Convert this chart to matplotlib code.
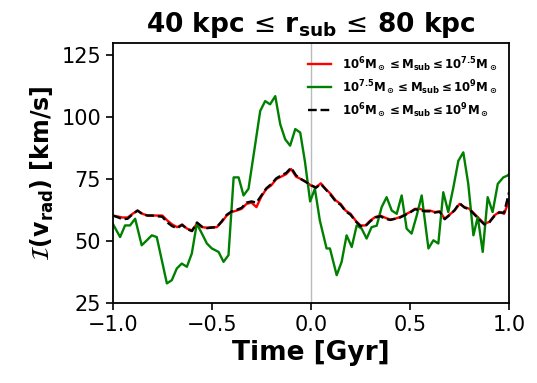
import numpy as np
import matplotlib
matplotlib.use("Agg")
import matplotlib.pyplot as plt

# time grid for the two smooth curves (Gyr)
t_grid = np.linspace(-1.0, 1.0, 81)

# 10^6 <= M <= 10^7.5
v_low = [60.3, 59.9, 59.5, 59.5, 61.0, 62.3, 61.0, 60.3, 60.3, 60.3,
         60.3, 58.3, 56.7, 55.6, 56.7, 55.0, 54.3, 57.0, 55.6, 55.4,
         55.6, 55.6, 57.7, 60.3, 61.7, 62.3, 63.0, 65.0, 65.5, 63.7,
         68.0, 71.0, 72.5, 75.0, 76.0, 77.0, 79.1, 76.0, 75.0, 74.0,
         72.4, 71.7, 73.3, 71.0, 69.0, 66.4, 65.0, 62.3, 61.0, 58.3,
         56.3, 56.3, 58.3, 59.7, 60.3, 59.4, 58.7, 59.0, 59.7, 60.7,
         61.7, 63.0, 63.0, 62.3, 62.3, 61.7, 62.0, 59.0, 60.7, 62.3,
         65.0, 63.7, 63.0, 61.0, 59.0, 57.0, 57.7, 60.3, 61.7, 61.0,
         66.4]

# 10^6 <= M <= 10^9
v_all = [60.3, 59.6, 58.8, 59.0, 60.8, 62.3, 60.8, 60.3, 60.3, 60.0,
         59.8, 57.5, 56.0, 55.2, 56.5, 54.8, 54.0, 57.5, 55.8, 55.2,
         55.4, 55.6, 58.0, 60.6, 62.0, 62.6, 63.4, 65.5, 66.0, 65.5,
         68.4, 71.3, 73.0, 75.3, 76.5, 77.5, 79.6, 76.5, 75.0, 73.8,
         72.6, 71.5, 73.0, 70.8, 68.6, 66.0, 64.6, 62.0, 60.6, 58.0,
         56.0, 56.0, 58.0, 59.5, 60.0, 59.0, 58.5, 59.0, 59.5, 60.5,
         61.5, 62.8, 62.5, 62.0, 62.0, 61.5, 61.8, 58.8, 60.5, 62.5,
         65.3, 63.5, 62.8, 60.7, 58.6, 56.7, 57.5, 60.0, 61.5, 61.5,
         69.7]

# 10^7.5 <= M <= 10^9
t_high = [-1.0, -0.963, -0.938, -0.913, -0.887, -0.854, -0.828, -0.803,
          -0.778, -0.727, -0.702, -0.677, -0.652, -0.626, -0.601, -0.576,
          -0.550, -0.525, -0.500, -0.466, -0.441, -0.416, -0.390, -0.365,
          -0.340, -0.315, -0.285, -0.256, -0.231, -0.206, -0.180, -0.155,
          -0.130, -0.105, -0.079, -0.054, -0.030, -0.004, 0.020, 0.045,
          0.079, 0.096, 0.130, 0.155, 0.180, 0.206, 0.231, 0.256, 0.281,
          0.306, 0.332, 0.357, 0.382, 0.408, 0.433, 0.458, 0.483, 0.508,
          0.534, 0.559, 0.593, 0.618, 0.643, 0.668, 0.693, 0.719, 0.744,
          0.769, 0.794, 0.820, 0.842, 0.867, 0.892, 0.917, 0.943, 0.971,
          0.991, 1.0]
v_high = [57.0, 51.6, 56.3, 56.3, 59.0, 48.3, 50.3, 52.3,
          51.6, 32.9, 34.2, 38.9, 40.9, 39.6, 45.0, 57.0,
          53.0, 49.0, 47.0, 45.6, 41.6, 44.3, 75.7, 75.7,
          68.4, 71.1, 87.0, 102.5, 106.5, 105.2, 108.5, 97.2,
          91.1, 88.5, 95.2, 93.8, 82.0, 66.0, 71.1, 58.3,
          47.0, 47.0, 36.2, 41.6, 52.3, 47.6, 56.3, 55.0, 51.0,
          55.6, 56.2, 63.7, 67.7, 62.3, 61.0, 68.4, 55.0, 53.0,
          60.3, 68.4, 47.0, 50.3, 49.0, 69.7, 61.7, 71.7, 82.4,
          85.8, 73.1, 52.3, 59.7, 45.6, 67.7, 61.7, 73.1, 75.7,
          76.4, 77.0]

labels = [r'$\mathbf{10^6M_\odot \leq M_{sub} \leq 10^{7.5}M_\odot}$',
          r'$\mathbf{10^{7.5}M_\odot \leq M_{sub} \leq 10^9M_\odot}$',
          r'$\mathbf{10^6M_\odot \leq M_{sub} \leq 10^9M_\odot}$']

fig = plt.figure(figsize=(5.37, 3.83), dpi=100)
ax = fig.add_axes([0.210, 0.209, 0.738, 0.679])

ax.axvline(0, color='#bbbbbb', lw=1, zorder=0)
ax.plot(t_grid, v_low, color='red', lw=1.7, label=labels[0])
ax.plot(t_high, v_high, color='green', lw=1.7, label=labels[1])
ax.plot(t_grid, v_all, 'k--', lw=1.7, label=labels[2])

ax.set_xlim(-1, 1)
ax.set_ylim(25, 130)
ax.set_xticks([-1.0, -0.5, 0.0, 0.5, 1.0])
ax.set_yticks([25, 50, 75, 100, 125])
ax.tick_params(labelsize=15, length=5, width=1.2)
for s in ax.spines.values():
    s.set_linewidth(1.3)

ax.set_title(r'40 kpc$\,\leq\,$r$_\mathbf{sub}$$\,\leq\,$80 kpc', fontsize=19,
             fontweight='bold', pad=8)
ax.set_xlabel('Time [Gyr]', fontsize=19, fontweight='bold')
ax.set_ylabel(r'$\mathcal{I}\mathbf{(v_{rad})}$ [km/s]', fontsize=17, fontweight='bold')

ax.legend(loc='upper right', frameon=False, prop={'size': 8.5, 'weight': 'bold'},
          handlelength=2.0, handletextpad=0.9, labelspacing=0.45,
          borderaxespad=0.6)

fig.savefig('out.png', dpi=100)
